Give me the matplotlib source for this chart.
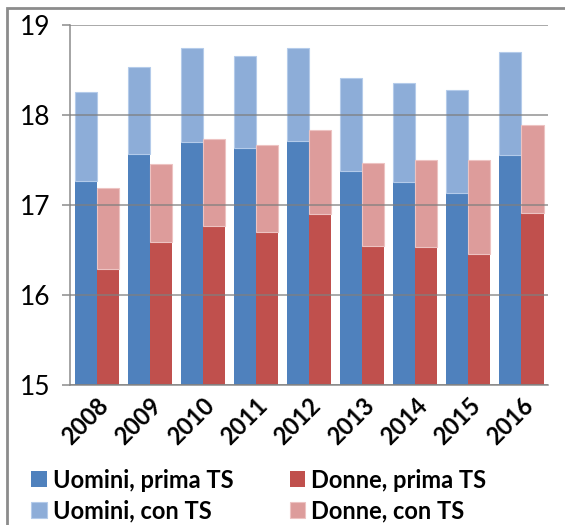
import numpy as np
import matplotlib
matplotlib.use('Agg')
import matplotlib.pyplot as plt
from matplotlib.patches import Rectangle

plt.rcParams['font.family'] = ['Lato', 'DejaVu Sans']

anni = ['2008', '2009', '2010', '2011', '2012', '2013', '2014', '2015', '2016']
uomini_prima = [17.27, 17.57, 17.70, 17.63, 17.71, 17.38, 17.25, 17.13, 17.56]
uomini_con = [18.25, 18.53, 18.74, 18.66, 18.74, 18.41, 18.35, 18.28, 18.70]
donne_prima = [16.29, 16.59, 16.77, 16.70, 16.90, 16.54, 16.53, 16.45, 16.91]
donne_con = [17.19, 17.45, 17.73, 17.67, 17.83, 17.47, 17.50, 17.50, 17.89]

base = 15
blu = '#4F81BD'
blu_chiaro = '#8DADD8'
rosso = '#C0504D'
rosso_chiaro = '#DD9C9B'

fig = plt.figure(figsize=(5.65, 5.25), dpi=100)
ax = fig.add_axes([0.1239, 0.2667, 0.8461, 0.6857])

x = np.arange(len(anni))
w = 0.415
up = np.array(uomini_prima)
uc = np.array(uomini_con)
dp = np.array(donne_prima)
dc = np.array(donne_con)

ax.bar(x - w / 2, up - base, w, bottom=base, color=blu, label='Uomini, prima TS', zorder=2)
ax.bar(x + w / 2, dp - base, w, bottom=base, color=rosso, label='Donne, prima TS', zorder=2)
ax.bar(x - w / 2, uc - up, w, bottom=up, color=blu_chiaro, edgecolor='#B4CBEA',
       linewidth=0.8, label='Uomini, con TS', zorder=2)
ax.bar(x + w / 2, dc - dp, w, bottom=dp, color=rosso_chiaro, edgecolor='#EDC3C2',
       linewidth=0.8, label='Donne, con TS', zorder=2)

ax.set_ylim(15, 19)
ax.set_xlim(-0.5, len(anni) - 0.5)
ax.set_yticks([15, 16, 17, 18, 19])
ax.yaxis.grid(True, color='#7F7F7F', linewidth=1.1, alpha=0.85, zorder=3)
ax.set_axisbelow(False)

for s in ['top', 'right']:
    ax.spines[s].set_visible(False)
for s in ['left', 'bottom']:
    ax.spines[s].set_color('#8C8C8C')
    ax.spines[s].set_linewidth(1.1)

ax.tick_params(axis='y', length=6, color='#8C8C8C', width=1.1, labelsize=19, pad=8)
ax.tick_params(axis='x', length=0, pad=6)
ax.set_xticks(x)
ax.set_xticklabels(anni, rotation=45, ha='right', rotation_mode='anchor',
                   fontsize=17, fontweight='bold')

handles, labels = ax.get_legend_handles_labels()
order = [0, 2, 1, 3]
fig.legend([handles[i] for i in order], [labels[i] for i in order],
           loc='lower left', bbox_to_anchor=(0.018, -0.035), ncol=2, frameon=False,
           prop={'weight': 'bold', 'size': 17}, handlelength=0.65, handleheight=0.65,
           handletextpad=0.25, columnspacing=2.4, labelspacing=0.32)

# bordo del grafico
fig.patches.append(Rectangle((7 / 565, -0.05), 1.1, 1 - 8 / 525 + 0.05,
                             transform=fig.transFigure, fill=False,
                             edgecolor='#8C8C8C', linewidth=2))

fig.savefig('out.png', dpi=100)
